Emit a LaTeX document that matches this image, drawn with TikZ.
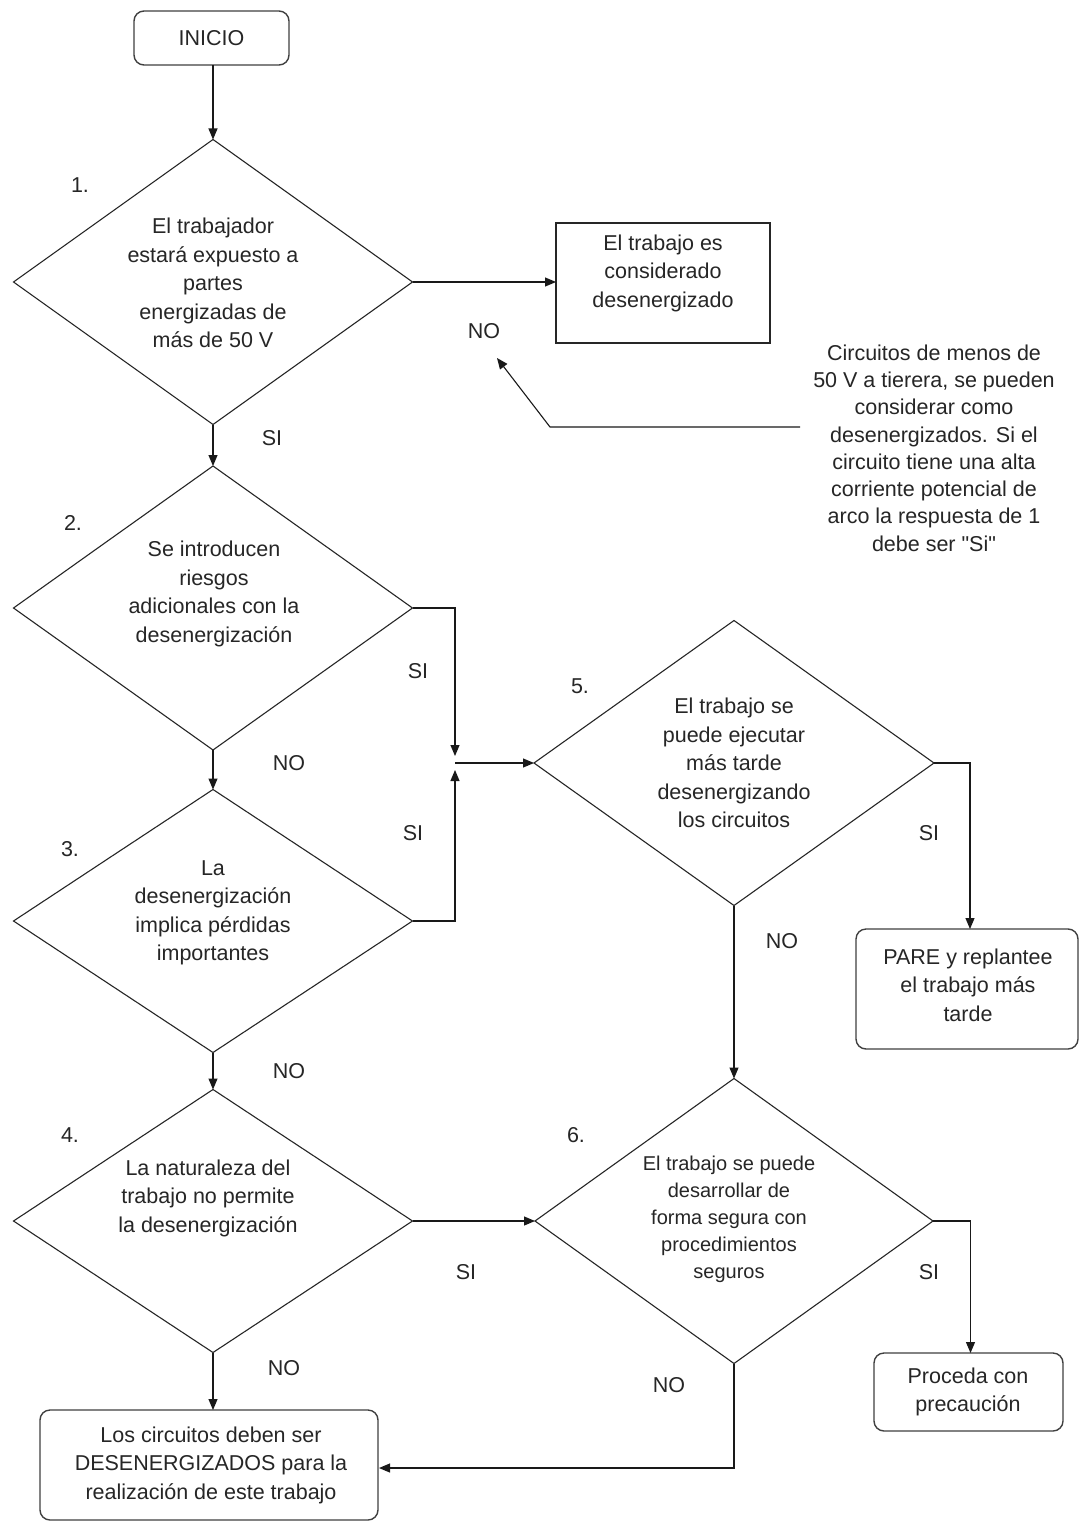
\documentclass[tikz,border=0pt]{standalone}
\usepackage{fontspec}
\setmainfont{Liberation Sans}
\newfontfamily\plainfont{Liberation Sans}
\usetikzlibrary{shapes.geometric,arrows.meta,calc}
\begin{document}
\begin{tikzpicture}[x=1pt,y=-1pt,
  dia/.style={diamond,draw=black!85,line width=1.1pt,minimum width=399pt,inner sep=0pt,outer sep=0pt},
  rbox/.style={rectangle,draw=black!75,line width=1.4pt,rounded corners=10pt,inner sep=0pt,outer sep=0pt},
  sbox/.style={rectangle,draw=black!85,line width=1.2pt,inner sep=0pt,outer sep=0pt},
  txt/.style={align=center,font=\fontsize{21.5}{28.5}\selectfont,text=black!85,inner sep=0pt},
  lbl/.style={font=\fontsize{21.5}{24}\selectfont,text=black!85,inner sep=0pt},
  arr/.style={-{Triangle[length=11pt,width=9pt]},line width=1.1pt,draw=black!90}
]
\useasboundingbox (0,0) rectangle (1081,1522);
\fill[white] (0,0) rectangle (1081,1522);

% shapes
\node[rbox,minimum width=155pt,minimum height=54pt] (inicio) at (211.5,38) {};
\node[txt] (tinicio) at (211.5,38) {INICIO};

\node[dia,minimum height=285pt] (d1) at (213,282) {};
\node[dia,minimum height=284pt] (d2) at (213,608) {};
\node[dia,minimum height=263pt] (d3) at (213,921) {};
\node[dia,minimum height=263pt] (d4) at (213,1221) {};
\node[dia,minimum width=400pt,minimum height=285pt] (d5) at (734,763) {};
\node[dia,minimum width=398pt,minimum height=285pt] (d6) at (734,1221) {};

\node[sbox,minimum width=214pt,minimum height=120pt] (b1) at (663,283) {};
\node[rbox,minimum width=222pt,minimum height=120pt] (pare) at (967,989) {};
\node[rbox,minimum width=189pt,minimum height=78pt] (proc) at (968.5,1392) {};
\node[rbox,minimum width=338pt,minimum height=110pt] (bb) at (209,1465) {};

% texts
\node[txt] (t1) at (213,283) {El trabajador\\estará expuesto a\\partes\\energizadas de\\más de 50 V};
\node[txt] (t2) at (214,594) {Se introducen\\riesgos\\adicionales con la\\desenergización};
\node[txt] (t3) at (213,913) {La\\desenergización\\implica pérdidas\\importantes};
\node[txt] (t4) at (208,1198) {La naturaleza del\\trabajo no permite\\la desenergización};
\node[txt] (t5) at (734,763) {El trabajo se\\puede ejecutar\\más tarde\\desenergizando\\los circuitos};
\node[txt,font=\fontsize{20}{27}\selectfont] (t6) at (729,1219) {El trabajo se puede\\desarrollar de\\forma segura con\\procedimientos\\seguros};
\node[txt] (tb1) at (663,273) {El trabajo es\\considerado\\desenergizado};
\node[txt] (tpare) at (968,985) {PARE y replantee\\el trabajo más\\tarde};
\node[txt] (tproc) at (968,1392) {Proceda con\\precaución};
\node[txt] (tbb) at (211,1465) {Los circuitos deben ser\\DESENERGIZADOS para la\\realización de este trabajo};
\node[txt,font=\fontsize{21.5}{27.3}\selectfont] (callout) at (934,448) {Circuitos de menos de\\50 V a tierera, se pueden\\considerar como\\desenergizados. Si el\\circuito tiene una alta\\corriente potencial de\\arco la respuesta de 1\\debe ser {\plainfont"Si"}};

% numbers
\node[lbl] (n1) at (80,185) {1.};
\node[lbl] (n2) at (73,523) {2.};
\node[lbl] (n3) at (70,849) {3.};
\node[lbl] (n4) at (70,1135) {4.};
\node[lbl] (n5) at (580,686) {5.};
\node[lbl] (n6) at (576,1135) {6.};

% edge labels
\node[lbl] (l1) at (272,438) {SI};
\node[lbl] (l2) at (484,331) {NO};
\node[lbl] (l3) at (418,671) {SI};
\node[lbl] (l4) at (289,763) {NO};
\node[lbl] (l5) at (413,833) {SI};
\node[lbl] (l6) at (289,1071) {NO};
\node[lbl] (l7) at (466,1272) {SI};
\node[lbl] (l8) at (284,1368) {NO};
\node[lbl] (l9) at (929,833) {SI};
\node[lbl] (l10) at (782,941) {NO};
\node[lbl] (l11) at (929,1272) {SI};
\node[lbl] (l12) at (669,1385) {NO};

% coordinates
\coordinate (j) at (455,763);
\coordinate (jt) at (455,756);
\coordinate (jb) at (455,770);
\coordinate (cstart) at (800,427);
\coordinate (cbend) at (550,427);
\coordinate (ctip) at (497,358);
\coordinate (bbr) at (379,1468);

% connectors
\draw[arr] (inicio.south -| d1.north) -- (d1.north);
\draw[arr] (d1.south) -- (d2.north);
\draw[arr] (d1.east) -- (b1.west |- d1.east);
\draw[arr] (d2.south) -- (d3.north);
\draw[arr] (d3.south) -- (d4.north);
\draw[arr] (d2.east) -| (jt);
\draw[arr] (d3.east) -| (jb);
\draw[arr] (j) -- (d5.west);
\draw[arr] (d4.east) -- (d6.west);
\draw[arr] (d4.south) -- (d4.south |- bb.north);
\draw[arr] (d5.east) -| ($(pare.north)+(3,0)$);
\draw[arr] (d5.south) -- (d6.north);
\draw[arr] (d6.east) -| ($(proc.north)+(2,0)$);
\draw[arr] (d6.south) |- (bbr);
\draw[arr] (cstart) -- (cbend) -- (ctip);
\end{tikzpicture}
\end{document}
